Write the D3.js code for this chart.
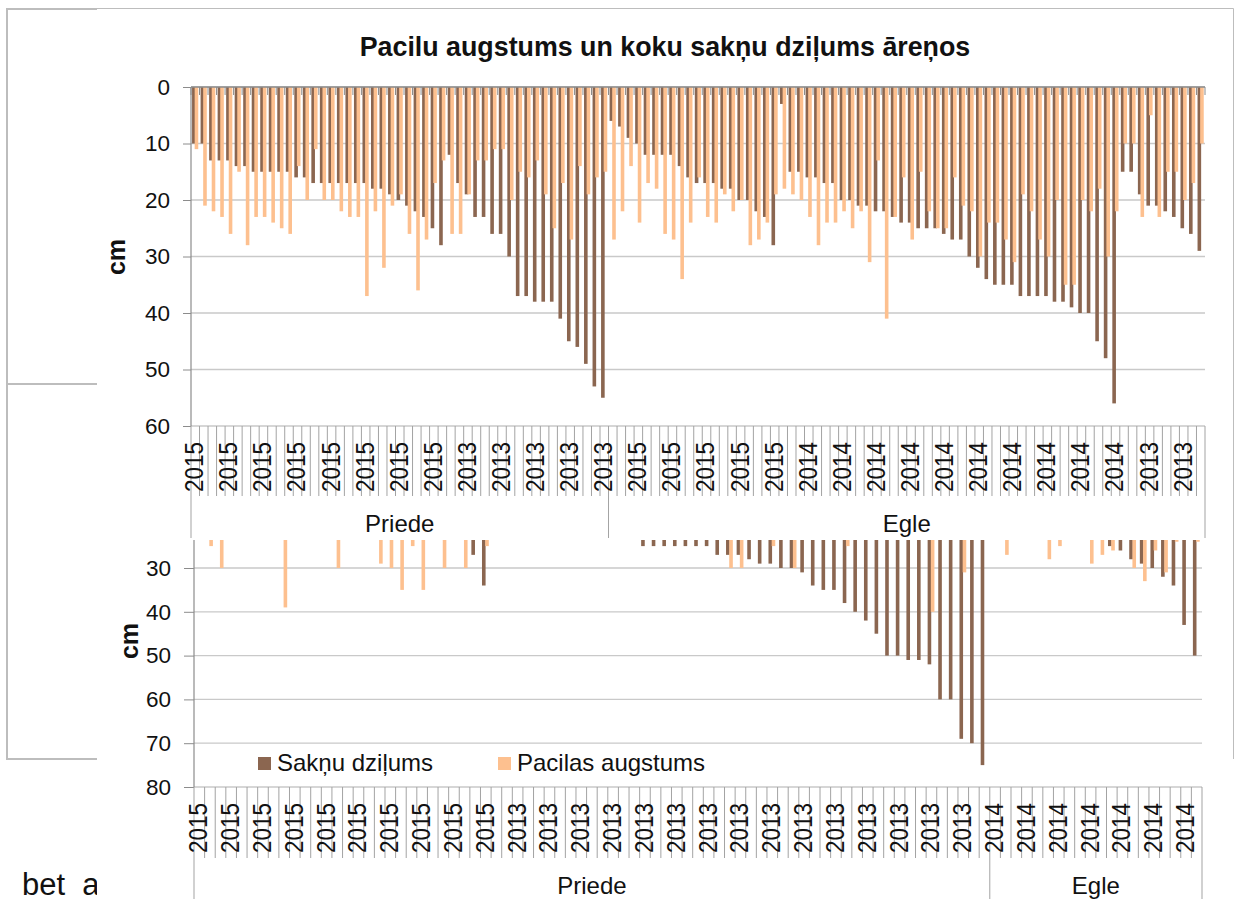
<!DOCTYPE html>
<html>
<head>
<meta charset="utf-8">
<title>Pacilu augstums un koku sakņu dziļums āreņos</title>
<script src="https://cdn.jsdelivr.net/npm/d3@7"></script>
<style>
  body { margin: 0; background: #fff; }
  svg { display: block; }
  text { font-family: "Liberation Sans", Arial, sans-serif; fill: #111; }
</style>
</head>
<body>
<svg width="1235" height="899"></svg>
<script>
var n = null;

var chartTitle = "Pacilu augstums un koku sakņu dziļums āreņos";
var seriesNames = ["Sakņu dziļums", "Pacilas augstums"];

// upper chart, 119 trees
var rootsTop = [
  10,10,13,13,13,14,14,15,15,15,
  15,15,16,16,17,17,17,17,17,17,
  17,18,18,19,20,21,22,23,25,28,
  12,17,19,23,23,26,26,30,37,37,
  38,38,38,41,45,46,49,53,55,6,
  7,9,10,12,12,12,12,14,16,17,
  17,17,18,18,20,20,22,23,28,3,
  15,15,16,16,17,17,20,20,21,21,
  22,22,23,24,24,25,25,25,26,27,
  27,30,32,34,35,35,35,37,37,37,
  37,38,38,39,40,40,45,48,56,15,
  15,19,21,21,22,23,25,26,29
];
var moundTop = [
  11,21,22,23,26,15,28,23,23,24,
  25,26,14,20,11,20,20,22,23,23,
  37,22,32,21,19,26,36,27,17,13,
  26,26,19,13,13,11,11,20,15,16,
  13,19,25,17,27,14,19,16,15,27,
  22,14,24,17,18,26,27,34,24,16,
  23,24,19,22,20,28,27,24,19,18,
  19,20,23,28,24,24,22,25,22,31,
  13,41,23,16,27,15,22,25,25,16,
  21,22,30,24,24,27,31,19,22,27,
  30,20,35,35,20,22,18,30,22,10,
  10,23,5,23,15,15,20,17,10
];
var yearLabelsTop = [
  2015,2015,2015,2015,2015,2015,2015,2015,
  2013,2013,2013,2013,2013,
  2015,2015,2015,2015,2015,
  2014,2014,2014,2014,2014,2014,2014,2014,2014,2014,
  2013,2013
];
var groupsTop = [["Priede", 49], ["Egle", 70]];

// lower chart, 95 trees. null = bar ends above the part of the chart that shows
var rootsBottom = [
  n,n,n,n,n,n,n,n,n,n,
  n,n,n,n,n,n,n,n,n,n,
  n,n,n,n,n,n,27,34,n,n,
  n,n,n,n,n,n,n,n,n,n,
  n,n,25,25,25,25,25,25,25,27,
  27,27,28,29,29,30,30,31,34,35,
  35,38,40,42,45,50,50,51,51,52,
  60,60,69,70,75,n,n,n,n,n,
  n,n,n,n,n,n,25,26,28,29,
  30,32,34,43,50
];
var moundBottom = [
  n,25,30,n,n,n,n,n,39,n,
  n,n,n,30,n,n,n,29,30,35,
  25,35,n,30,n,30,n,25,n,n,
  n,n,n,n,n,n,n,n,n,n,
  n,n,n,n,n,n,n,n,n,n,
  30,30,n,n,25,n,30,n,n,n,
  n,25,n,n,n,n,n,n,n,40,
  n,n,31,n,n,n,27,n,n,n,
  28,25,n,n,29,27,26,n,30,33,
  26,31,24,n,24
];
var yearLabelsBottom = [
  2015,2015,2015,2015,2015,2015,2015,2015,2015,2015,
  2013,2013,2013,2013,2013,2013,2013,2013,2013,2013,2013,2013,2013,2013,2013,
  2014,2014,2014,2014,2014,2014,2014
];
var groupsBottom = [["Priede", 75], ["Egle", 20]];

var ticksTop = [0, 10, 20, 30, 40, 50, 60];
var ticksBottom = [30, 40, 50, 60, 70, 80];

var brown = "#8b6650", orange = "#fdc08f";
var gridColor = "#c9c9c9", axisColor = "#8c8c8c";

var svg = d3.select("svg");

// leftovers of the slide behind the two charts
var frame = svg.append("g").attr("fill", "none").attr("stroke", "#bdbdbd");
frame.append("path").attr("stroke-width", 2).attr("d", "M97,9H7V759H97M7,384H97");
frame.append("path").attr("stroke-width", 1).attr("d", "M97,8.5H1233.5V759");

svg.append("clipPath").attr("id", "betClip")
  .append("rect").attr("x", 0).attr("y", 860).attr("width", 97).attr("height", 39);
svg.append("text")
  .attr("x", 22).attr("y", 895)
  .attr("clip-path", "url(#betClip)")
  .style("white-space", "pre")
  .style("font-size", "31px")
  .text("bet  a");

function drawChart(opt) {
  var g = svg.append("g");
  var count = opt.roots.length;

  var x = d3.scaleBand().domain(d3.range(count)).range([opt.left, opt.right]);
  var edge = d3.scaleLinear().domain([0, count]).range([opt.left, opt.right]);
  var y = d3.scaleLinear().domain([0, opt.maxValue]).range([opt.zeroY, opt.bottom]);

  // value axis with gridlines
  var yAxis = d3.axisLeft(y)
    .tickValues(opt.ticks)
    .tickSize(opt.tickLen)
    .tickPadding(opt.labelPad)
    .tickFormat(d3.format("d"));
  var yG = g.append("g").attr("transform", "translate(" + opt.left + ",0)").call(yAxis);
  yG.select(".domain").remove();
  yG.selectAll(".tick line").attr("stroke", axisColor);
  yG.selectAll(".tick text").style("font-size", "22.5px").attr("fill", "#111");

  g.append("g").selectAll("line")
    .data(opt.ticks)
    .enter().append("line")
    .attr("x1", opt.left).attr("x2", opt.right)
    .attr("y1", function(d) { return y(d); })
    .attr("y2", function(d) { return y(d); })
    .attr("stroke", gridColor)
    .attr("stroke-width", 1.3);

  // bars hang down from zero. the lower chart is cut off at clipTop
  var clipId = "clip" + opt.left;
  svg.append("clipPath").attr("id", clipId)
    .append("rect")
    .attr("x", opt.left).attr("y", opt.clipTop)
    .attr("width", opt.right - opt.left).attr("height", opt.bottom - opt.clipTop);
  var bars = g.append("g").attr("clip-path", "url(#" + clipId + ")");

  [[opt.roots, brown, opt.rootShift], [opt.mounds, orange, opt.moundShift]].forEach(function(s) {
    bars.append("g").selectAll("rect")
      .data(s[0].map(function(v, i) { return { v: v, i: i }; }).filter(function(d) { return d.v !== null; }))
      .enter().append("rect")
      .attr("x", function(d) { return x(d.i) + x.bandwidth() / 2 + s[2] - opt.barWidth / 2; })
      .attr("y", y(0))
      .attr("width", opt.barWidth)
      .attr("height", function(d) { return y(d.v) - y(0); })
      .attr("fill", s[1]);
  });

  // axis lines
  g.append("line")
    .attr("x1", opt.left).attr("x2", opt.left)
    .attr("y1", Math.max(y(0), opt.clipTop)).attr("y2", opt.bottom)
    .attr("stroke", axisColor).attr("stroke-width", 1.2);
  if (opt.clipTop <= y(0)) {
    g.append("line")
      .attr("x1", opt.left).attr("x2", opt.right)
      .attr("y1", y(0)).attr("y2", y(0))
      .attr("stroke", axisColor).attr("stroke-width", 1.4);
    // little ticks under the zero line
    g.append("g").selectAll("line")
      .data(d3.range(count + 1))
      .enter().append("line")
      .attr("x1", function(d) { return edge(d); })
      .attr("x2", function(d) { return edge(d); })
      .attr("y1", y(0)).attr("y2", y(0) + 8)
      .attr("stroke", axisColor);
  }

  // category ticks below the plot
  g.append("g").selectAll("line")
    .data(d3.range(count + 1))
    .enter().append("line")
    .attr("x1", function(d) { return edge(d); })
    .attr("x2", function(d) { return edge(d); })
    .attr("y1", opt.bottom).attr("y2", opt.bottom + opt.catTick)
    .attr("stroke", "#a3a3a3");

  // year labels, only every few trees
  var labelled = d3.range(0, count, opt.labelEvery);
  var xAxis = d3.axisBottom(x)
    .tickValues(labelled)
    .tickSize(0)
    .tickFormat(function(d) { return opt.years[labelled.indexOf(d)]; });
  var xG = g.append("g").attr("transform", "translate(0," + opt.bottom + ")").call(xAxis);
  xG.select(".domain").remove();
  xG.selectAll(".tick text")
    .attr("transform", "rotate(-90) scale(1,1.12)")
    .attr("x", -16).attr("y", -1).attr("dy", "0.36em")
    .style("text-anchor", "end")
    .style("font-size", "22.5px")
    .attr("fill", "#111");

  // Priede / Egle row
  var at = 0;
  var seps = [0];
  opt.groups.forEach(function(grp) {
    var from = at;
    at += grp[1];
    seps.push(at);
    g.append("text")
      .attr("x", (edge(from) + edge(at)) / 2)
      .attr("y", opt.groupY)
      .attr("text-anchor", "middle")
      .style("font-size", "24px")
      .text(grp[0]);
  });
  g.append("g").selectAll("line")
    .data(seps)
    .enter().append("line")
    .attr("x1", function(d) { return edge(d); })
    .attr("x2", function(d) { return edge(d); })
    .attr("y1", opt.bottom + opt.catTick).attr("y2", opt.groupEnd)
    .attr("stroke", "#a3a3a3");

  g.append("text")
    .attr("transform", "translate(" + opt.unitX + "," + opt.unitY + ") rotate(-90)")
    .attr("text-anchor", "middle")
    .style("font-size", "25px")
    .style("font-weight", "bold")
    .text("cm");
}

drawChart({
  roots: rootsTop, mounds: moundTop, years: yearLabelsTop, groups: groupsTop, ticks: ticksTop,
  left: 191, right: 1205, zeroY: 87, bottom: 426, maxValue: 60, clipTop: 87,
  barWidth: 3.6, rootShift: -1.4, moundShift: 1.2, tickLen: 8, labelPad: 13,
  catTick: 70, labelEvery: 4, groupY: 532, groupEnd: 538, unitX: 125, unitY: 257
});

drawChart({
  roots: rootsBottom, mounds: moundBottom, years: yearLabelsBottom, groups: groupsBottom, ticks: ticksBottom,
  left: 194, right: 1202, zeroY: 436.6, bottom: 787, maxValue: 80, clipTop: 540,
  barWidth: 3.6, rootShift: -2, moundShift: 1.2, tickLen: 10, labelPad: 13,
  catTick: 71, labelEvery: 3, groupY: 894, groupEnd: 899, unitX: 138, unitY: 641
});

// title
svg.append("text")
  .attr("x", 665).attr("y", 56)
  .attr("text-anchor", "middle")
  .style("font-size", "26.8px")
  .style("font-weight", "bold")
  .text(chartTitle);

// legend sits inside the lower plot
var legend = svg.append("g");
var legendX = [258, 498];
seriesNames.forEach(function(name, i) {
  legend.append("rect")
    .attr("x", legendX[i]).attr("y", 757)
    .attr("width", 13).attr("height", 13)
    .attr("fill", i == 0 ? brown : orange);
  legend.append("text")
    .attr("x", legendX[i] + 19).attr("y", 771)
    .style("font-size", "24px")
    .text(name);
});
</script>
</body>
</html>
